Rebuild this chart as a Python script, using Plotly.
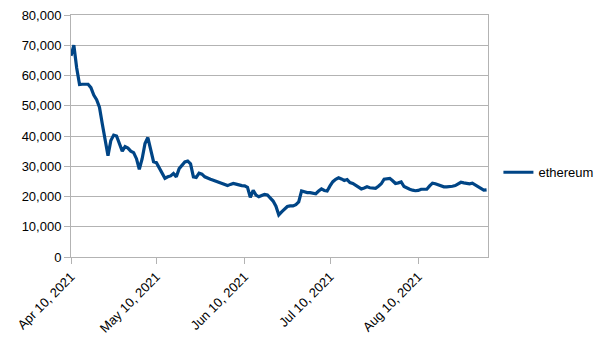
import datetime as dt
import plotly.graph_objects as go

start = dt.date(2021, 4, 10)
values = [
    66.5, 70.0, 62.5, 57.0, 57.1, 57.1, 57.1, 56.0, 53.5, 52.0,
    49.5, 44.0, 38.0, 33.5, 38.5, 40.3, 40.0, 37.5, 35.0, 36.5,
    36.0, 35.0, 34.5, 32.5, 29.0, 32.5, 37.5, 39.5, 36.0, 31.5,
    31.2, 29.5, 27.5, 26.0, 26.5, 26.8, 27.6, 26.5, 29.2, 30.5,
    31.4, 31.7, 30.8, 26.5, 26.3, 27.7, 27.4, 26.5, 26.0, 25.7,
    25.4, 25.0, 24.7, 24.3, 23.8, 23.6, 24.0, 24.3, 24.1, 23.8,
    23.6, 23.5, 23.0, 19.7, 22.0, 20.5, 19.9, 20.3, 20.7, 20.5,
    19.5, 18.5, 16.8, 13.9, 14.9, 15.8, 16.7, 16.9, 16.9, 17.3,
    18.2, 21.8, 21.5, 21.3, 21.3, 21.0, 20.9, 21.8, 22.5, 22.0,
    21.8, 23.5, 24.9, 25.7, 26.2, 25.8, 25.3, 25.6, 24.6, 24.3,
    23.7, 23.1, 22.5, 22.8, 23.2, 22.9, 22.7, 22.7, 23.4, 24.2,
    25.7, 25.9, 26.0, 25.2, 24.3, 24.5, 24.8, 23.3, 22.7, 22.4,
    22.1, 21.9, 22.0, 22.4, 22.4, 22.4, 23.5, 24.4, 24.2, 23.8,
    23.4, 23.2, 23.2, 23.2, 23.4, 23.6, 24.3, 24.7, 24.5, 24.3,
    24.2, 24.4, 23.8, 23.2, 22.5, 22.1, 22.2,
]
dates = [start + dt.timedelta(days=i) for i in range(len(values))]
ethereum = [v * 1000 for v in values]

tick_dates = ["2021-04-10", "2021-05-10", "2021-06-10", "2021-07-10", "2021-08-10"]
tick_labels = ["Apr 10, 2021", "May 10, 2021", "Jun 10, 2021", "Jul 10, 2021", "Aug 10, 2021"]
y_ticks = list(range(0, 80001, 10000))

fig = go.Figure()
fig.add_trace(go.Scatter(
    x=dates, y=ethereum, mode="lines", name="ethereum",
    line=dict(color="#004586", width=3.2),
))

font = dict(family="Liberation Sans, Arial, sans-serif", size=13, color="#000000")
grid = "#b3b3b3"
fig.update_layout(
    width=605, height=340,
    margin=dict(l=71, r=117, t=15, b=83, autoexpand=False),
    paper_bgcolor="white", plot_bgcolor="white",
    font=font,
    showlegend=True,
    legend=dict(x=1.025, y=0.35, xanchor="left", yanchor="middle",
                font=dict(family="Liberation Sans, Arial, sans-serif", size=13, color="#000000"),
                bgcolor="rgba(0,0,0,0)"),
    xaxis=dict(
        type="date", automargin=False,
        range=["2021-04-10", "2021-09-03 12:00"],
        tickmode="array", tickvals=tick_dates, ticktext=tick_labels,
        tickangle=-45, ticks="outside", ticklen=6, tickcolor=grid,
        showgrid=False, showline=True, linecolor=grid, linewidth=1, mirror=True,
        zeroline=False,
    ),
    yaxis=dict(
        automargin=False,
        range=[0, 80000], tickmode="array", tickvals=y_ticks,
        tickformat=",", ticks="outside", ticklen=6, tickcolor=grid,
        showgrid=True, gridcolor=grid, gridwidth=1,
        showline=True, linecolor=grid, linewidth=1, mirror=True,
        zeroline=False,
    ),
)

fig.write_html("out.html")
